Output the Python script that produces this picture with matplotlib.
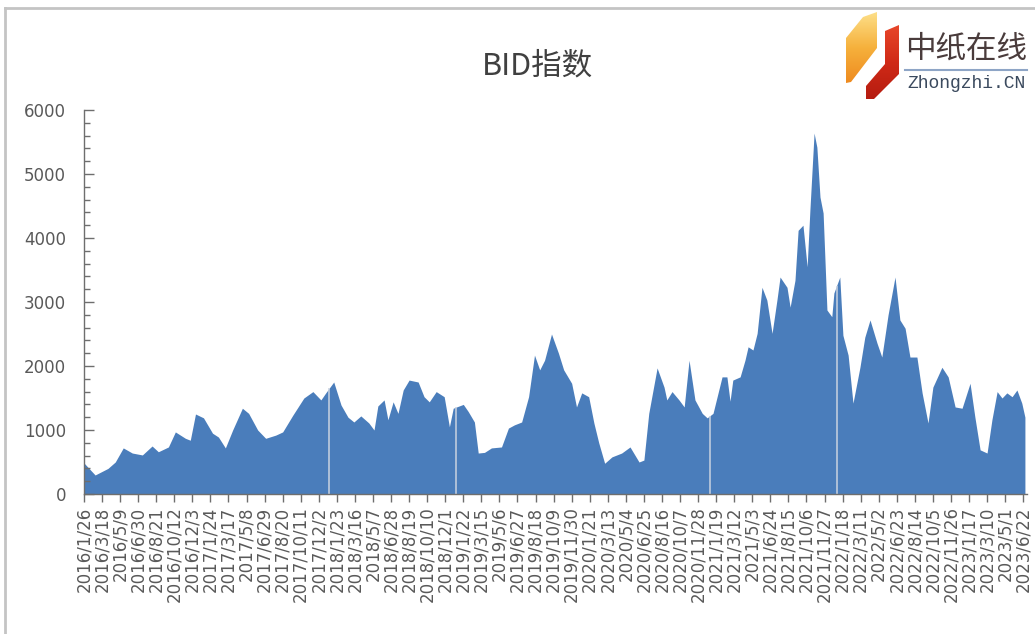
import datetime as dt
import numpy as np
import matplotlib
matplotlib.use("Agg")
import matplotlib.pyplot as plt
import matplotlib.dates as mdates
from matplotlib.ticker import MultipleLocator, FixedLocator, FuncFormatter
from matplotlib.patches import Polygon
from matplotlib.lines import Line2D
from matplotlib.colors import LinearSegmentedColormap

# BID index, values
dates = [
    "2016-01-26", "2016-02-27", "2016-04-04", "2016-04-25", "2016-05-18", "2016-06-13",
    "2016-07-12", "2016-08-09", "2016-08-27", "2016-09-25", "2016-10-15", "2016-11-13",
    "2016-11-27", "2016-12-12", "2017-01-04", "2017-01-30", "2017-02-16", "2017-03-08",
    "2017-03-29", "2017-04-26", "2017-05-14", "2017-06-09", "2017-07-02", "2017-07-31",
    "2017-08-20", "2017-09-18", "2017-10-20", "2017-11-15", "2017-12-08", "2017-12-22",
    "2018-01-14", "2018-02-04", "2018-02-24", "2018-03-13", "2018-04-02", "2018-04-25",
    "2018-05-10", "2018-05-21", "2018-06-08", "2018-06-19", "2018-07-04", "2018-07-18",
    "2018-08-02", "2018-08-19", "2018-09-14", "2018-10-01", "2018-10-16", "2018-11-05",
    "2018-11-28", "2018-12-13", "2018-12-24", "2019-01-22", "2019-02-05", "2019-02-23",
    "2019-03-06", "2019-03-24", "2019-04-13", "2019-05-12", "2019-06-01", "2019-06-18",
    "2019-07-09", "2019-07-29", "2019-08-15", "2019-08-30", "2019-09-13", "2019-10-03",
    "2019-10-23", "2019-11-07", "2019-11-30", "2019-12-14", "2019-12-29", "2020-01-18",
    "2020-02-02", "2020-02-16", "2020-03-04", "2020-03-25", "2020-04-22", "2020-05-16",
    "2020-06-11", "2020-06-25", "2020-07-09", "2020-08-02", "2020-08-22", "2020-08-30",
    "2020-09-14", "2020-10-04", "2020-10-19", "2020-11-02", "2020-11-19", "2020-12-10",
    "2020-12-24", "2021-01-10", "2021-02-05", "2021-02-19", "2021-02-28", "2021-03-08",
    "2021-03-29", "2021-04-12", "2021-04-21", "2021-05-05", "2021-05-17", "2021-05-31",
    "2021-06-14", "2021-06-29", "2021-07-13", "2021-07-22", "2021-08-11", "2021-08-20",
    "2021-09-03", "2021-09-12", "2021-09-26", "2021-10-08", "2021-10-16", "2021-10-28",
    "2021-11-05", "2021-11-14", "2021-11-23", "2021-12-04", "2021-12-18", "2021-12-24",
    "2022-01-10", "2022-01-19", "2022-02-03", "2022-02-17", "2022-03-09", "2022-03-23",
    "2022-04-07", "2022-04-27", "2022-05-11", "2022-05-29", "2022-06-18", "2022-07-02",
    "2022-07-17", "2022-07-31", "2022-08-20", "2022-09-04", "2022-09-21", "2022-10-05",
    "2022-10-31", "2022-11-18", "2022-12-08", "2022-12-28", "2023-01-20", "2023-02-03",
    "2023-02-18", "2023-03-10", "2023-03-24", "2023-04-08", "2023-04-22", "2023-05-06",
    "2023-05-21", "2023-06-04", "2023-06-18", "2023-06-27",
]
values = [
    484, 297, 400, 500, 720, 640,
    610, 750, 660, 735, 970, 870,
    840, 1250, 1190, 950, 890, 720,
    1000, 1340, 1260, 1000, 870, 920,
    970, 1230, 1500, 1600, 1470, 1580,
    1750, 1390, 1200, 1125, 1220, 1110,
    1000, 1375, 1470, 1160, 1440, 1260,
    1625, 1780, 1750, 1520, 1440, 1600,
    1520, 1050, 1340, 1400, 1290, 1125,
    640, 650, 720, 735, 1030, 1080,
    1125, 1520, 2170, 1940, 2090, 2500,
    2200, 1940, 1730, 1360, 1580, 1520,
    1110, 800, 480, 580, 640, 735,
    500, 530, 1260, 1970, 1670, 1470,
    1600, 1470, 1360, 2090, 1470, 1260,
    1190, 1260, 1830, 1830, 1450, 1780,
    1830, 2090, 2300, 2250, 2510, 3230,
    3030, 2510, 3030, 3390, 3230, 2920,
    3340, 4120, 4200, 3550, 4440, 5640,
    5420, 4640, 4390, 2875, 2770, 3140,
    3390, 2480, 2170, 1420, 1980, 2450,
    2720, 2360, 2140, 2800, 3390, 2720,
    2590, 2140, 2140, 1580, 1110, 1670,
    1980, 1830, 1360, 1340, 1730, 1200,
    690, 640, 1160, 1600, 1500, 1580,
    1520, 1625, 1420, 1200,
]
# year-end breaks visible as thin light lines in the fill
year_breaks = ["2018-01-01", "2019-01-01", "2021-01-01", "2022-01-01"]

title = "BID指数"
first_tick = "2016-01-26"
tick_step_days = 52
n_ticks = 53
x_end = "2023-07-03"

W, H = 1035, 634
fig = plt.figure(figsize=(W / 100, H / 100), dpi=100)
fig.patch.set_facecolor("white")

ax = fig.add_axes([84 / W, 1 - 494 / H, (1027 - 84) / W, (494 - 110) / H])

def to_num(s):
    return mdates.date2num(dt.datetime.strptime(s, "%Y-%m-%d"))

xs = np.array([to_num(d) for d in dates])
ys = np.array(values, dtype=float)
ax.fill_between(xs, ys, 0, color="#4a7dbb", lw=0)

# thin gaps at year ends
for b in year_breaks:
    bx = to_num(b)
    ax.vlines(bx, 0, np.interp(bx, xs, ys), color="#c9d2e0", lw=1.1, zorder=2)

ax.set_xlim(to_num(first_tick), to_num(x_end))
ax.set_ylim(0, 6000)

t0 = to_num(first_tick)
ticks = [t0 + i * tick_step_days for i in range(n_ticks)]
ax.xaxis.set_major_locator(FixedLocator(ticks))

def fmt_date(v, pos):
    d = mdates.num2date(v)
    return f"{d.year}/{d.month}/{d.day}"

ax.xaxis.set_major_formatter(FuncFormatter(fmt_date))
ax.yaxis.set_major_locator(MultipleLocator(1000))
ax.yaxis.set_minor_locator(MultipleLocator(200))

axis_col = "#6e6e6e"
text_col = "#595959"
for s in ["top", "right"]:
    ax.spines[s].set_visible(False)
for s in ["left", "bottom"]:
    ax.spines[s].set_color(axis_col)
    ax.spines[s].set_linewidth(1.0)

ax.tick_params(axis="x", which="major", direction="out", length=6, width=1,
               color=axis_col, labelsize=12, labelcolor=text_col,
               labelrotation=90, pad=3)
ax.tick_params(axis="y", which="major", direction="in", length=7, width=1,
               color=axis_col, labelsize=12, labelcolor=text_col, pad=13)
ax.tick_params(axis="y", which="minor", direction="in", length=4, width=1,
               color=axis_col)
for lab in ax.get_xticklabels():
    lab.set_verticalalignment("top")

fig.text(537 / W, 1 - 66 / H, title, ha="center", va="center", fontsize=22,
         color="#404040", family=["Noto Sans CJK SC", "DejaVu Sans"])

# overlay in pixel coordinates for the frame and the logo
ov = fig.add_axes([0, 0, 1, 1], zorder=5)
ov.patch.set_alpha(0)
ov.axis("off")

ov.add_line(Line2D([5, W], [8, 8], color="#c4c4c4", lw=2))
ov.add_line(Line2D([5, 5], [8, H], color="#c4c4c4", lw=2))

orange = Polygon([(863, 17), (877, 12), (877, 48), (851, 82), (846, 83), (846, 38)],
                 closed=True, fc="none", ec="none")
ov.add_patch(orange)
grad = np.linspace(0, 1, 60).reshape(-1, 1)
cm_o = LinearSegmentedColormap.from_list("o", ["#fde08a", "#f6b13c", "#ee8a1f"])
im = ov.imshow(grad, extent=(845, 878, 84, 11), cmap=cm_o, aspect="auto", origin="upper")
im.set_clip_path(orange)

red = Polygon([(885, 31), (899, 25), (899, 74), (874, 99), (866, 99), (866, 86), (885, 64)],
              closed=True, fc="none", ec="none")
ov.add_patch(red)
cm_r = LinearSegmentedColormap.from_list("r", ["#e8472a", "#d02a17", "#b51c10"])
im2 = ov.imshow(grad, extent=(865, 900, 100, 24), cmap=cm_r, aspect="auto", origin="upper")
im2.set_clip_path(red)

ov.text(966, 49, "中纸在线", ha="center", va="center", fontsize=22,
        color="#4a3c3c", family=["Noto Sans CJK SC", "DejaVu Sans"])
ov.add_line(Line2D([905, 1027], [70, 70], color="#8ea5c6", lw=1.5))
ov.text(966, 84, "Zhongzhi.CN", ha="center", va="center", fontsize=13,
        color="#3b4a5e", family=["Liberation Mono", "DejaVu Sans Mono"])

ov.set_xlim(0, W)
ov.set_ylim(H, 0)

fig.savefig("out.png", dpi=100)
